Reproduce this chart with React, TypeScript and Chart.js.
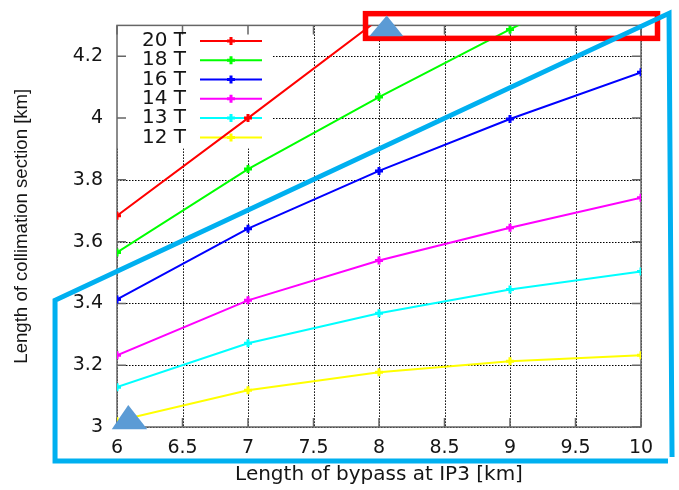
import { useEffect, useRef } from 'react';
import { Chart, registerables } from 'chart.js';

Chart.register(...registerables);

// Length of bypass at IP3 [km]
const bypassKm = [6, 7, 8, 9, 10];

// Length of collimation section [km] per dipole field
const series20T = [3.684, 4.0, 4.32];
const series18T = [3.565, 3.835, 4.068, 4.287, 4.5];
const series16T = [3.413, 3.642, 3.829, 3.997, 4.148];
const series14T = [3.232, 3.41, 3.539, 3.645, 3.742];
const series13T = [3.129, 3.271, 3.368, 3.445, 3.503];
const series12T = [3.019, 3.119, 3.177, 3.213, 3.232];

const fieldLabels = ['20 T', '18 T', '16 T', '14 T', '13 T', '12 T'];
const fieldColors = ['#ff0000', '#00ff00', '#0000ff', '#ff00ff', '#00ffff', '#ffff00'];

const xTicks = [6, 6.5, 7, 7.5, 8, 8.5, 9, 9.5, 10];
const yTicks = [3, 3.2, 3.4, 3.6, 3.8, 4, 4.2];

// Highlight shapes, given in axis units
const redBox = { x0: 7.897, x1: 10.126, y0: 4.258, y1: 4.338 };
const upperTriangle = [[8.059, 4.332], [8.186, 4.265], [7.926, 4.265]];
const lowerTriangle = [[6.086, 3.071], [6.231, 2.993], [5.96, 2.993]];
const bluePath = [[10.237, 2.903], [10.214, 4.339], [5.527, 3.41], [5.527, 2.89], [10.206, 2.89]];

const allSeries = [series20T, series18T, series16T, series14T, series13T, series12T];

const TICK_FONT = 'DejaVu Sans';
const TEXT_COLOR = '#151515';

const framePlugin = {
  id: 'gnuplotFrame',
  beforeDatasetsDraw(chart: any) {
    const { ctx, chartArea: a, scales } = chart;
    const xs = scales.x;
    const ys = scales.y;
    ctx.save();

    // dotted grid
    ctx.strokeStyle = '#000';
    ctx.lineWidth = 1;
    ctx.setLineDash([1.5, 1.5]);
    ctx.beginPath();
    for (const v of xTicks) {
      const px = Math.round(xs.getPixelForValue(v)) + 0.5;
      ctx.moveTo(px, a.top);
      ctx.lineTo(px, a.bottom);
    }
    for (const v of yTicks) {
      const py = Math.round(ys.getPixelForValue(v)) + 0.5;
      ctx.moveTo(a.left, py);
      ctx.lineTo(a.right, py);
    }
    ctx.stroke();
    ctx.setLineDash([]);

    // opaque key background
    ctx.fillStyle = '#ffffff';
    ctx.fillRect(a.left, a.top, 155, 123);

    // border and inward tick marks
    ctx.strokeStyle = '#666';
    ctx.lineWidth = 1.5;
    ctx.strokeRect(a.left, a.top, a.right - a.left, a.bottom - a.top);
    ctx.beginPath();
    const tl = 9;
    for (const v of xTicks) {
      const px = xs.getPixelForValue(v);
      ctx.moveTo(px, a.bottom);
      ctx.lineTo(px, a.bottom - tl);
      ctx.moveTo(px, a.top);
      ctx.lineTo(px, a.top + tl);
    }
    for (const v of yTicks) {
      const py = ys.getPixelForValue(v);
      ctx.moveTo(a.left, py);
      ctx.lineTo(a.left + tl, py);
      ctx.moveTo(a.right, py);
      ctx.lineTo(a.right - tl, py);
    }
    ctx.stroke();

    // key entries
    ctx.font = `20px "${TICK_FONT}"`;
    ctx.textAlign = 'right';
    ctx.textBaseline = 'middle';
    fieldLabels.forEach((label, i) => {
      const cy = a.top + 15.5 + i * 19.3;
      ctx.fillStyle = TEXT_COLOR;
      ctx.fillText(label, a.left + 69, cy);
      ctx.strokeStyle = fieldColors[i];
      ctx.lineWidth = 2;
      ctx.beginPath();
      ctx.moveTo(a.left + 83, cy);
      ctx.lineTo(a.left + 145, cy);
      ctx.stroke();
      ctx.lineWidth = 3;
      ctx.beginPath();
      const mx = a.left + 114;
      ctx.moveTo(mx - 4, cy);
      ctx.lineTo(mx + 4, cy);
      ctx.moveTo(mx, cy - 4);
      ctx.lineTo(mx, cy + 4);
      ctx.stroke();
    });
    ctx.restore();
  },
  afterDraw(chart: any) {
    const { ctx, scales } = chart;
    const px = (v: number) => scales.x.getPixelForValue(v);
    const py = (v: number) => scales.y.getPixelForValue(v);
    ctx.save();

    ctx.strokeStyle = '#ff0000';
    ctx.lineWidth = 5.5;
    ctx.lineJoin = 'miter';
    ctx.strokeRect(px(redBox.x0), py(redBox.y1), px(redBox.x1) - px(redBox.x0), py(redBox.y0) - py(redBox.y1));

    ctx.fillStyle = '#5b9bd5';
    for (const tri of [upperTriangle, lowerTriangle]) {
      ctx.beginPath();
      tri.forEach(([vx, vy], i) => (i === 0 ? ctx.moveTo(px(vx), py(vy)) : ctx.lineTo(px(vx), py(vy))));
      ctx.closePath();
      ctx.fill();
    }

    ctx.strokeStyle = '#00b0f0';
    ctx.lineWidth = 5;
    ctx.beginPath();
    bluePath.forEach(([vx, vy], i) => (i === 0 ? ctx.moveTo(px(vx), py(vy)) : ctx.lineTo(px(vx), py(vy))));
    ctx.stroke();
    ctx.restore();
  },
};

export default function App() {
  const canvasRef = useRef<HTMLCanvasElement | null>(null);

  useEffect(() => {
    const canvas = canvasRef.current;
    if (!canvas) return;
    const datasets = allSeries.map((vals, i) => ({
      label: fieldLabels[i],
      data: vals.map((v, j) => ({ x: bypassKm[j], y: v })),
      borderColor: fieldColors[i],
      backgroundColor: fieldColors[i],
      borderWidth: 2,
      pointStyle: 'cross' as const,
      pointRadius: 4,
      pointBorderWidth: 3,
      pointBorderColor: fieldColors[i],
      tension: 0,
      fill: false,
    }));

    const chart = new Chart(canvas, {
      type: 'line',
      data: { datasets },
      options: {
        animation: false,
        responsive: false,
        layout: { padding: { left: 0, right: 38, top: 25, bottom: 0 } },
        plugins: { legend: { display: false }, tooltip: { enabled: false } },
        scales: {
          x: {
            type: 'linear',
            min: 6,
            max: 10,
            afterBuildTicks: (s: any) => {
              s.ticks = xTicks.map((v) => ({ value: v }));
            },
            afterFit: (s: any) => {
              s.height = 63;
            },
            grid: { display: false, drawTicks: false },
            border: { display: false },
            ticks: {
              padding: 10,
              color: TEXT_COLOR,
              font: { family: TICK_FONT, size: 19 },
              maxRotation: 0,
              autoSkip: false,
              callback: (v: any) => String(v),
            },
            title: {
              display: true,
              text: 'Length of bypass at IP3 [km]',
              color: TEXT_COLOR,
              font: { family: TICK_FONT, size: 20 },
              padding: { top: 0, bottom: 3 },
            },
          },
          y: {
            type: 'linear',
            min: 3,
            max: 4.3,
            afterBuildTicks: (s: any) => {
              s.ticks = yTicks.map((v) => ({ value: v }));
            },
            afterFit: (s: any) => {
              s.width = 117;
            },
            grid: { display: false, drawTicks: false },
            border: { display: false },
            ticks: {
              padding: 14,
              color: TEXT_COLOR,
              font: { family: TICK_FONT, size: 19 },
              autoSkip: false,
              callback: (v: any) => String(v),
            },
            title: {
              display: true,
              text: 'Length of collimation section [km]',
              color: TEXT_COLOR,
              font: { family: 'Liberation Sans', size: 18.6 },
              padding: { top: 11, bottom: 0 },
            },
          },
        },
      },
      plugins: [framePlugin],
    });
    return () => chart.destroy();
  }, []);

  return (
    <div style={{ position: 'absolute', left: 0, top: 0, width: 679, height: 490, background: '#fff' }}>
      <canvas ref={canvasRef} width={679} height={490} style={{ display: 'block' }} />
    </div>
  );
}
